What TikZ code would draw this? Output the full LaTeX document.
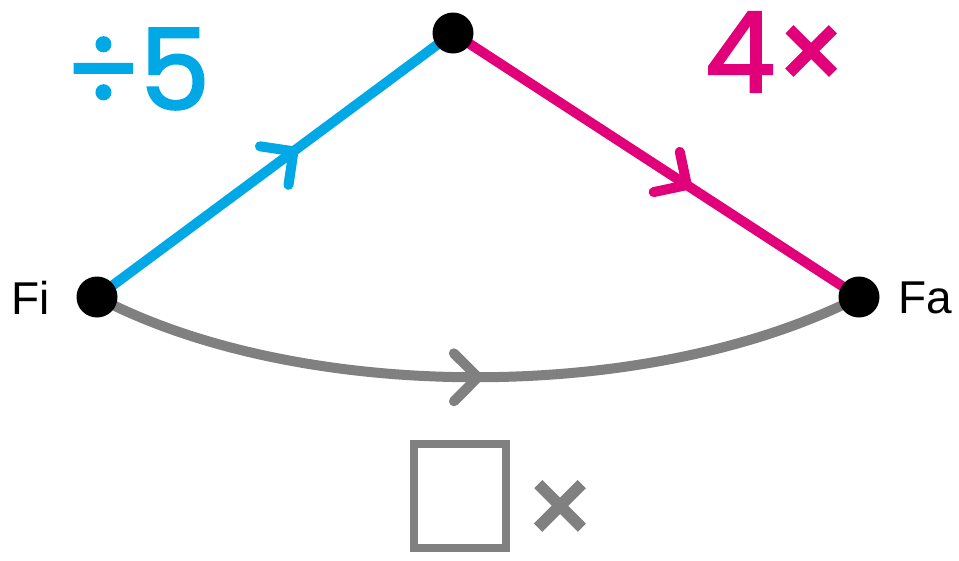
\documentclass[tikz,border=0pt]{standalone}
\usepackage{fontspec}
\setmainfont{Liberation Sans}
\newfontfamily\hand{Poppins}[FakeBold=2]
\usetikzlibrary{decorations.markings,backgrounds}
\definecolor{cblue}{HTML}{00A9E6}
\definecolor{cmag}{HTML}{E2007A}
\definecolor{cgray}{HTML}{808080}
\tikzset{
  dot/.style={circle,fill=black,inner sep=0pt,minimum size=41pt},
  lbl/.style={font=\fontsize{46}{46}\selectfont,inner sep=0pt},
  big/.style={font=\hand\fontsize{112}{112}\selectfont,inner sep=0pt},
  edge/.style={line width=10pt},
  chev/.style={decoration={markings,mark=at position #1 with {\draw[line width=10pt,line cap=round,line join=round] (-24pt,24pt) -- (0pt,0pt) -- (-24pt,-24pt);}},postaction={decorate}}
}
\begin{document}
\begin{tikzpicture}[x=1pt,y=-1pt]
\useasboundingbox (0,0) rectangle (959,560);
\node[dot] (fi) at (97,297) {};
\node[dot] (top) at (453,33) {};
\node[dot] (fa) at (859,297) {};
\begin{scope}[on background layer]
\draw[edge,cblue,chev=0.552] (fi.center) -- (top.center);
\draw[edge,cmag,chev=0.576] (top.center) -- (fa.center);
\draw[edge,cgray,chev=0.5] (fi.center) .. controls +(203,107) and +(-209,107) .. (fa.center);
\end{scope}
\node[lbl] (tfi) at (31,298) {Fi};
\node[lbl] (tfa) at (925,298) {Fa};
\node[big,cblue] (div) at (138,69) {÷5};
\node[big,cmag] (mul) at (776,52) {4×};
\node[draw=cgray,line width=8pt,minimum width=92pt,minimum height=104pt,inner sep=0pt] (box) at (460,496) {};
\node[big,cgray] (x) at (560,547) {\smash{×}};
\end{tikzpicture}
\end{document}
